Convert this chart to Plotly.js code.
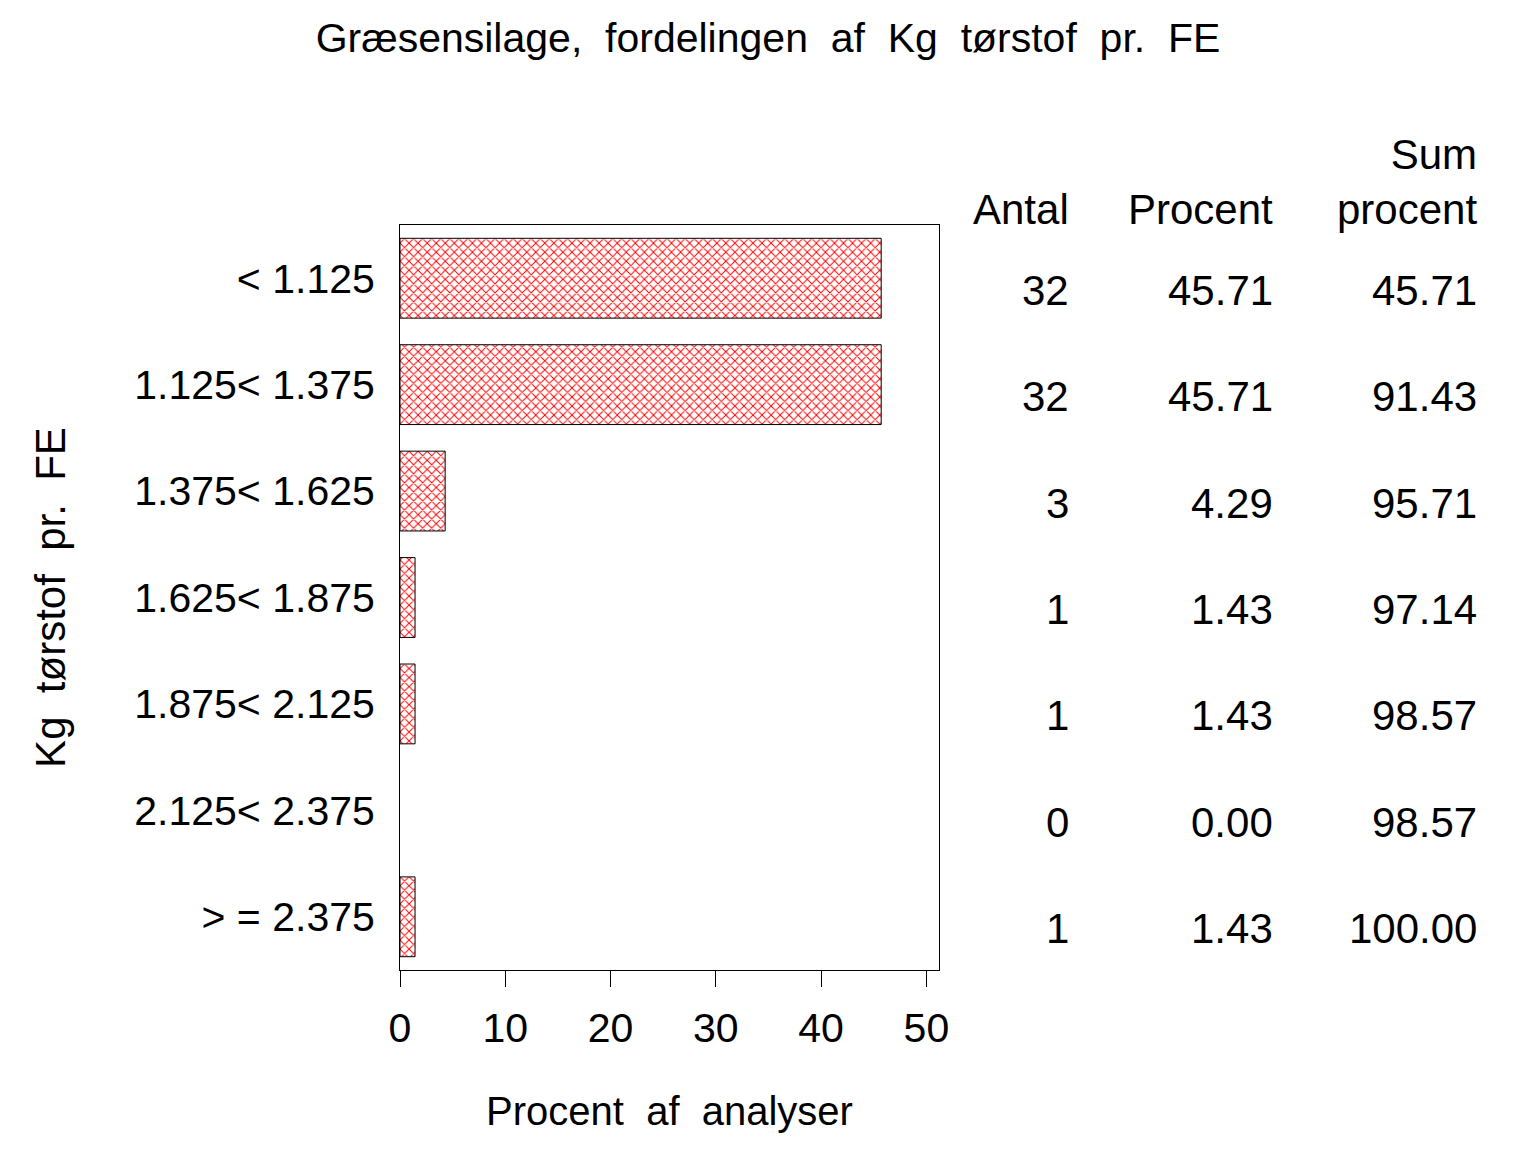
<!DOCTYPE html>
<html>
<head>
<meta charset="utf-8">
<script src="https://cdn.plot.ly/plotly-3.0.1.min.js"></script>
<style>html,body{margin:0;padding:0;background:#fff;}</style>
</head>
<body>
<div id="chart" style="width:1536px;height:1152px;"></div>
<script>
const categories = ["< 1.125", "1.125< 1.375", "1.375< 1.625", "1.625< 1.875", "1.875< 2.125", "2.125< 2.375", "> = 2.375"];
const percent = [45.71, 45.71, 4.29, 1.43, 1.43, 0.00, 1.43];
const antal = [32, 32, 3, 1, 1, 0, 1];
const sumPercent = [45.71, 91.43, 95.71, 97.14, 98.57, 98.57, 100.00];
const xTicks = [0, 10, 20, 30, 40, 50];
const headers = ["Antal", "Procent", "Sum<br>procent"];

const FONT = "Liberation Sans, Arial, Helvetica, sans-serif";
const SP = "\u00A0\u00A0";

const trace = {
  type: "bar",
  orientation: "h",
  x: percent,
  y: categories,
  width: 0.75,
  marker: {
    color: "white",
    line: {color: "black", width: percent.map(v => v > 0 ? 1 : 0)},
    pattern: {shape: "x", fgcolor: "red", bgcolor: "white", size: 6.4, solidity: 0.28}
  },
  hoverinfo: "skip"
};

const colX = [1.2377, 1.6164, 1.9953];
const annotations = [];
headers.forEach((h, j) => {
  annotations.push({
    xref: "paper", yref: "paper", x: colX[j], y: 1, xanchor: "right", yanchor: "bottom",
    text: h, showarrow: false, align: "right", yshift: -10, xshift: 4,
    font: {family: FONT, size: 42, color: "black"}
  });
});
categories.forEach((c, i) => {
  const vals = [String(antal[i]), percent[i].toFixed(2), sumPercent[i].toFixed(2)];
  vals.forEach((v, j) => {
    annotations.push({
      xref: "paper", yref: "y", x: colX[j], y: c, xanchor: "right", yanchor: "middle",
      text: v, showarrow: false, align: "right", yshift: -12, xshift: 4,
      font: {family: FONT, size: 42, color: "black"}
    });
  });
});

const layout = {
  width: 1536, height: 1152,
  margin: {l: 400, r: 597, t: 225, b: 182, pad: 0},
  paper_bgcolor: "white", plot_bgcolor: "white",
  showlegend: false,
  font: {family: FONT, color: "black"},
  title: {
    text: ["Græsensilage,", "fordelingen", "af", "Kg", "tørstof", "pr.", "FE"].join(SP),
    x: 0.5, xanchor: "center", y: 0.967, yanchor: "middle", yref: "container",
    font: {family: FONT, size: 41, color: "black"}
  },
  xaxis: {
    range: [0, 51.2], tickvals: xTicks, ticktext: xTicks.map(String),
    ticks: "outside", ticklen: 16, tickwidth: 1, tickcolor: "black",
    showline: true, linecolor: "black", linewidth: 1, mirror: true,
    showgrid: false, zeroline: false, fixedrange: true,
    ticklabelstandoff: 6,
    tickfont: {family: FONT, size: 41, color: "black"},
    title: {text: ["Procent", "af", "analyser"].join(SP), standoff: 46,
            font: {family: FONT, size: 40, color: "black"}}
  },
  yaxis: {
    type: "category", categoryorder: "array", categoryarray: categories,
    range: [6.5, -0.5],
    ticks: "", showline: true, linecolor: "black", linewidth: 1, mirror: true,
    showgrid: false, zeroline: false, fixedrange: true,
    ticklabelstandoff: 16,
    tickfont: {family: FONT, size: 41, color: "black"},
    title: {text: ["Kg", "tørstof", "pr.", "FE"].join(SP), standoff: 55,
            font: {family: FONT, size: 42, color: "black"}}
  },
  annotations: annotations
};

Plotly.newPlot("chart", [trace], layout, {staticPlot: true, displayModeBar: false});
</script>
</body>
</html>
